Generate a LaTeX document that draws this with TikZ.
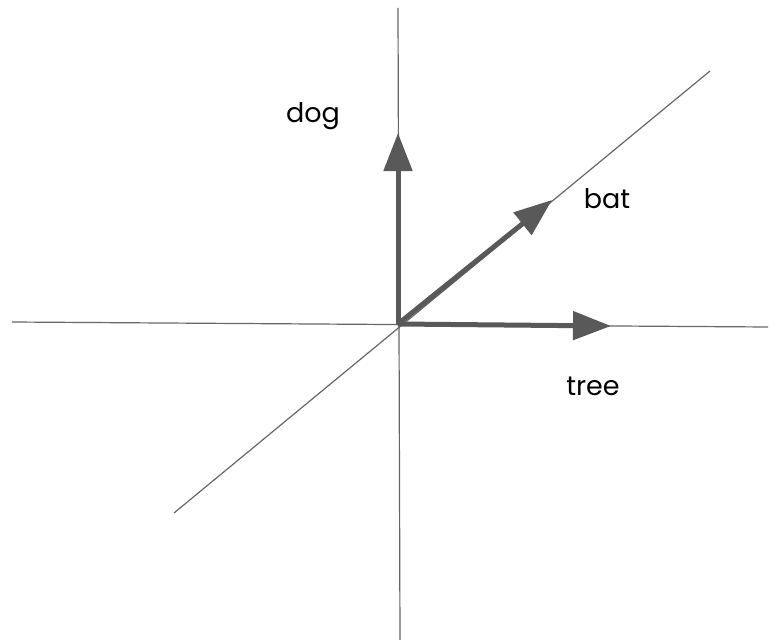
\documentclass[tikz,border=0pt]{standalone}
\usepackage{fontspec}
\setmainfont{Poppins}
\usetikzlibrary{arrows.meta}
\begin{document}
\begin{tikzpicture}[x=1pt,y=-1pt,
  axis/.style={draw=axisgray,line width=1.2pt},
  vec/.style={draw=vecgray,line width=5pt,-{Triangle[length=38pt,width=28pt]},shorten <=0pt},
  lbl/.style={font=\fontsize{27}{30}\selectfont,text=black,inner sep=0pt}]
\definecolor{axisgray}{HTML}{666666}
\definecolor{vecgray}{HTML}{595959}
\useasboundingbox (0,0) rectangle (769,642);
\coordinate (vt) at (398,8);
\coordinate (vb) at (400,640);
\coordinate (hl) at (12,322);
\coordinate (hr) at (768,327);
\coordinate (dl) at (174,513);
\coordinate (dr) at (710,71);
\coordinate (o) at (398,324);
\coordinate (dogtip) at (398,133);
\coordinate (battip) at (552,200);
\coordinate (treetip) at (611,326);
\draw[axis] (vt) -- (vb);
\draw[axis] (hl) -- (hr);
\draw[axis] (dl) -- (dr);
\draw[vec] (o) -- (dogtip);
\draw[vec] (o) -- (battip);
\draw[vec] (o) -- (treetip);
\node[lbl] (dog) at (313,116) {dog};
\node[lbl] (bat) at (607,199) {bat};
\node[lbl] (tree) at (593,386) {tree};
\end{tikzpicture}
\end{document}
